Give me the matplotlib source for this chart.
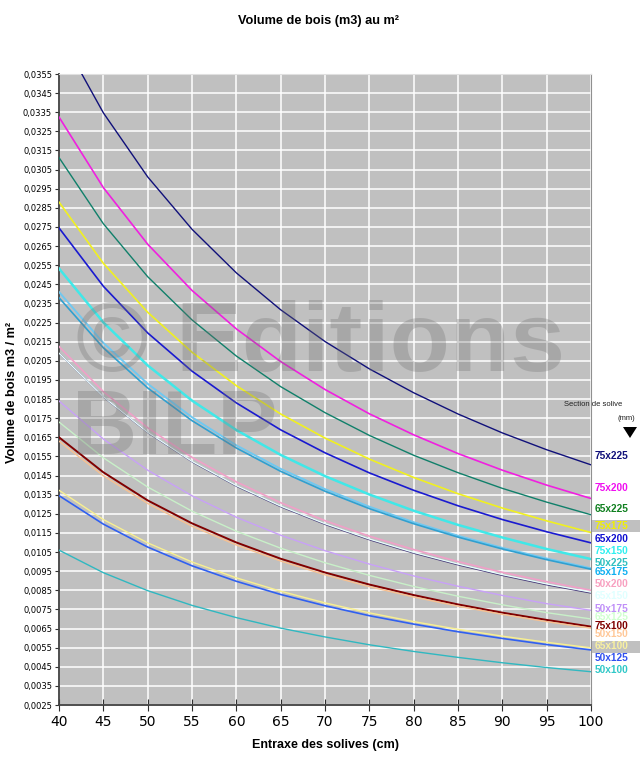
import matplotlib.pyplot as plt
import matplotlib.patheffects as pe
from matplotlib.patches import Rectangle, Polygon
from matplotlib.ticker import FuncFormatter, FixedLocator, MultipleLocator

# entraxe des solives (cm)
entraxe = [40, 45, 50, 55, 60, 65, 70, 75, 80, 85, 90, 95, 100]

# volume de bois m3 / m2
v_75x225 = [0.03765, 0.03347, 0.03012, 0.02738, 0.0251, 0.02317, 0.02151, 0.02008, 0.01883, 0.01772, 0.01673, 0.01585, 0.01506]
v_75x200 = [0.03325, 0.02956, 0.0266, 0.02418, 0.02217, 0.02046, 0.019, 0.01773, 0.01663, 0.01565, 0.01478, 0.014, 0.0133]
v_65x225 = [0.03113, 0.02767, 0.0249, 0.02264, 0.02075, 0.01915, 0.01779, 0.0166, 0.01556, 0.01465, 0.01383, 0.01311, 0.01245]
v_75x175 = [0.0288, 0.0256, 0.02304, 0.02095, 0.0192, 0.01772, 0.01646, 0.01536, 0.0144, 0.01355, 0.0128, 0.01213, 0.01152]
v_65x200 = [0.02745, 0.0244, 0.02196, 0.01996, 0.0183, 0.01689, 0.01569, 0.01464, 0.01373, 0.01292, 0.0122, 0.01156, 0.01098]
v_75x150 = [0.02533, 0.02251, 0.02026, 0.01842, 0.01688, 0.01558, 0.01447, 0.01351, 0.01266, 0.01192, 0.01126, 0.01066, 0.01013]
v_50x225 = [0.0241, 0.02144, 0.0193, 0.01755, 0.01608, 0.01485, 0.01379, 0.01287, 0.01206, 0.01135, 0.01072, 0.01016, 0.00965]
v_65x175 = [0.0238, 0.02118, 0.01908, 0.01737, 0.01594, 0.01472, 0.01368, 0.01277, 0.01198, 0.01128, 0.01066, 0.0101, 0.0096]
v_50x200 = [0.02125, 0.01889, 0.017, 0.01545, 0.01417, 0.01308, 0.01214, 0.01133, 0.01063, 0.01, 0.00944, 0.00895, 0.0085]
v_65x150 = [0.0209, 0.01862, 0.01676, 0.01524, 0.01397, 0.0129, 0.01198, 0.01118, 0.01048, 0.00987, 0.00932, 0.00883, 0.0084]
v_50x175 = [0.0184, 0.01641, 0.01478, 0.01344, 0.01232, 0.01138, 0.01057, 0.00987, 0.00925, 0.00871, 0.00823, 0.0078, 0.00745]
v_65x125 = [0.0173, 0.01543, 0.0139, 0.01264, 0.01159, 0.0107, 0.00994, 0.00928, 0.0087, 0.00819, 0.00774, 0.00733, 0.007]
v_75x100 = [0.0165, 0.01467, 0.0132, 0.012, 0.011, 0.01015, 0.00943, 0.0088, 0.00825, 0.00776, 0.00733, 0.00695, 0.0066]
v_50x150 = [0.0163, 0.01449, 0.01304, 0.01185, 0.01087, 0.01003, 0.00931, 0.00869, 0.00815, 0.00767, 0.00724, 0.00686, 0.00652]
v_65x100 = [0.01373, 0.0122, 0.01098, 0.00998, 0.00915, 0.00845, 0.00784, 0.00732, 0.00686, 0.00646, 0.0061, 0.00578, 0.00549]
v_50x125 = [0.01345, 0.01196, 0.01076, 0.00978, 0.00897, 0.00828, 0.00769, 0.00717, 0.00673, 0.00633, 0.00598, 0.00566, 0.00538]
v_50x100 = [0.0106, 0.00942, 0.00848, 0.00771, 0.00707, 0.00652, 0.00606, 0.00565, 0.0053, 0.00499, 0.00471, 0.00446, 0.00424]

sections = ['75x225', '75x200', '65x225', '75x175', '65x200', '75x150', '50x225', '65x175',
            '50x200', '65x150', '50x175', '65x125', '75x100', '50x150', '65x100', '50x125', '50x100']
valeurs = [v_75x225, v_75x200, v_65x225, v_75x175, v_65x200, v_75x150, v_50x225, v_65x175,
           v_50x200, v_65x150, v_50x175, v_65x125, v_75x100, v_50x150, v_65x100, v_50x125, v_50x100]

# graduations de l'axe vertical
y_ticks = [0.0025, 0.0035, 0.0045, 0.0055, 0.0065, 0.0075, 0.0085, 0.0095, 0.0105, 0.0115, 0.0125,
           0.0135, 0.0145, 0.0155, 0.0165, 0.0175, 0.0185, 0.0195, 0.0205, 0.0215, 0.0225, 0.0235,
           0.0245, 0.0255, 0.0265, 0.0275, 0.0285, 0.0295, 0.0305, 0.0315, 0.0325, 0.0335, 0.0345, 0.0355]

couleurs_ligne = ['#10107a', '#f020e0', '#10806a', '#f0f020', '#1a1ad0', '#40e8e8', '#70c8f0', '#30a0d0',
                  '#f0a0c8', '#e8ffff', '#c8a0f8', '#c8f0c8', '#800000', '#f8c090', '#f8f090', '#3060f0', '#30b8c0']
couleurs_texte = ['#10107a', '#f010f0', '#108020', '#f0f000', '#1010d0', '#30f0f0', '#30c0c0', '#10b0f0',
                  '#f8a0c0', '#e0ffff', '#c090f8', '#d0ffd0', '#800000', '#ffc898', '#f8f0a0', '#3050f0', '#30c8c8']
largeurs = [1.0, 1.2, 1.0, 1.2, 1.2, 1.8, 1.4, 1.2, 1.2, 0.9, 1.0, 1.0, 1.4, 1.0, 1.0, 1.2, 1.0]
# position verticale des étiquettes (pixels figure)
y_etiq = [456, 488, 509, 526, 539, 551, 563, 572, 584, 596, 609, 617, 626, 634, 646, 658, 670]

fig = plt.figure(figsize=(6.4, 7.82), dpi=100)
W, H = 640, 782
ax = fig.add_axes([59 / W, 1 - 705 / H, 532 / W, 631 / H])
ax.set_facecolor('#c0c0c0')

for nom, v, c, lw in zip(sections, valeurs, couleurs_ligne, largeurs):
    if nom == '65x150':
        ax.plot(entraxe, v, color=c, lw=lw, zorder=3,
                path_effects=[pe.SimpleLineShadow(offset=(0.8, -0.8), shadow_color='#3a2a70', alpha=0.9),
                              pe.Normal()])
    else:
        ax.plot(entraxe, v, color=c, lw=lw, zorder=3)

ax.set_xlim(40, 100)
ax.set_ylim(0.0025, 0.0355)
ax.xaxis.set_major_locator(MultipleLocator(5))
ax.yaxis.set_major_locator(FixedLocator(y_ticks))
ax.yaxis.set_major_formatter(FuncFormatter(lambda v, p: f'{v:.4f}'.replace('.', ',')))
ax.grid(True, color='white', lw=1.1, zorder=1)
ax.set_axisbelow(True)
ax.tick_params(axis='y', labelsize=6, length=3, direction='out', color='#303030', pad=2)
ax.tick_params(axis='x', labelsize=10, length=8, direction='inout', color='#303030', pad=3)
for s in ['left', 'bottom']:
    ax.spines[s].set_color('#404040')
    ax.spines[s].set_linewidth(1.3)
ax.spines['top'].set_color('#e0e0e0')
ax.spines['right'].set_color('#909090')

fig.text(318 / W, 1 - 21 / H, 'Volume de bois (m3) au m²', ha='center', va='center',
         fontsize=9.2, fontweight='bold', family='Liberation Sans')
fig.text(326 / W, 1 - 745 / H, 'Entraxe des solives (cm)', ha='center', va='center',
         fontsize=9, fontweight='bold', family='Liberation Sans')
fig.text(12 / W, 1 - 392 / H, 'Volume de bois m3 / m²', ha='center', va='center', rotation=90,
         fontsize=9.2, fontweight='bold', family='Liberation Sans')

# filigrane
fig.text(76 / W, 1 - 345 / H, '© Editions', ha='left', va='center', fontsize=71, fontweight='bold',
         family='Liberation Sans', color='#707070', alpha=0.3, zorder=10)
fig.text(72 / W, 1 - 430 / H, 'BILP', ha='left', va='center', fontsize=65, fontweight='bold',
         family='Liberation Sans', color='#707070', alpha=0.3, zorder=10)

# légende à droite
fig.text(593 / W, 1 - 404 / H, 'Section de solive', ha='center', va='center', fontsize=5.5,
         family='Liberation Sans', color='#202020')
fig.text(626 / W, 1 - 418 / H, '(mm)', ha='center', va='center', fontsize=5.5,
         family='Liberation Sans', color='#202020')
fig.patches.append(Polygon([[623 / W, 1 - 427 / H], [637 / W, 1 - 427 / H], [630 / W, 1 - 438 / H]],
                           closed=True, transform=fig.transFigure, facecolor='black', edgecolor='none'))
for yb in [520, 641]:
    fig.patches.append(Rectangle((592 / W, 1 - (yb + 12) / H), 48 / W, 12 / H, transform=fig.transFigure,
                                 facecolor='#c0c0c0', edgecolor='none'))
for nom, c, yp in zip(sections, couleurs_texte, y_etiq):
    fig.text(595 / W, 1 - yp / H, nom, ha='left', va='center', fontsize=7.3, fontweight='bold',
             family='Liberation Sans', color=c)

fig.savefig('out.png', dpi=100)
